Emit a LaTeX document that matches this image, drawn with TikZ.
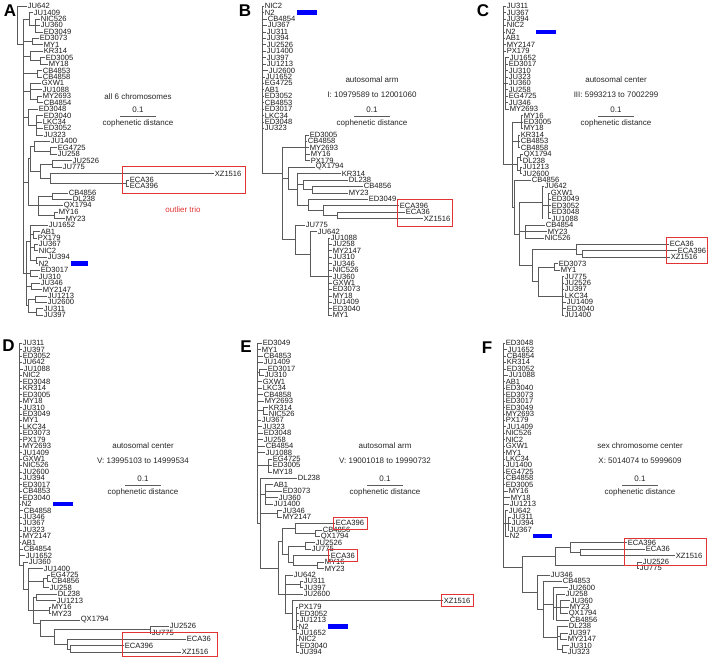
\documentclass[tikz,border=0pt]{standalone}
\usepackage{fontspec}
\setmainfont{Liberation Sans}
\usetikzlibrary{calc,fit}
\definecolor{boxred}{RGB}{226,52,52}
\definecolor{treegray}{RGB}{90,90,90}
\tikzset{
  leaf/.style={anchor=west,inner xsep=0.6pt,inner ysep=0pt,font=\fontsize{7.6}{7.6}\selectfont,text=black!90},
  branch/.style={draw=treegray,line width=0.5pt},
  note/.style={inner sep=0pt,font=\fontsize{8}{8}\selectfont,text=black!85},
  panel/.style={inner sep=0pt,font=\bfseries\fontsize{17}{17}\selectfont},
  trio/.style={draw=boxred,line width=0.8pt},
  nbar/.style={fill=blue}
}
\begin{document}
\begin{tikzpicture}[x=1pt,y=-1pt]
\useasboundingbox (0,0) rectangle (708,662);
\def\dy{6.44}

\begin{scope} %row-1 col-1
\def\yo{6}
\node[panel] (pA) at (10,11) {A};
\foreach \lab/\tx/\px [count=\n from 0] in {JU642/27/17, JU1409/33/29, NIC526/40/35, JU360/40/35, ED3049/43/35, ED3073/39/32, MY1/43/32, KR314/43/30, ED3005/45/40, MY18/48/40, CB4853/42/37, CB4858/42/37, GXW1/41/30, JU1088/42/30, MY2693/42/37, CB4854/43/37, ED3048/38/28, ED3040/43/36, LKC34/42/36, ED3052/43/36, JU323/43/36, JU1400/50/34, EG4725/57/50, JU258/57/50, JU2526/72/52, JU775/62/52, XZ1516/214/50, ECA36/129/126, ECA396/129/126, CB4856/68/52, DL238/72/52, QX1794/63/38, MY16/58/54, MY23/65/54, JU1652/48/30, AB1/40/33, PX179/37/33, JU367/38/34, NIC2/38/34, JU394/47/36, N2/38/36, ED3017/40/30, JU310/38/30, JU346/40/31, MY2147/42/31, JU1213/47/35, JU2600/47/35, JU311/43/36, JU397/43/36}
{
 \node[leaf] (A\n) at (\tx,{\yo+\dy*\n}) {\lab};
 \draw[branch] (A\n.west) -- (\px,{\yo+\dy*\n});
}
\foreach \bx/\bi/\bj in {17/0/6, 23/2/41.5, 29/1/3, 35/2/4, 32/5/6, 30/7/8.5, 40/8/9, 37/10/11, 30/12/14.5, 37/14/15, 28/16/18.5, 36/17/20, 34/21/22.5, 50/22/23, 52/24/25, 50/26/27.5, 126/27/28, 40/24.5/26.75, 30/21.75/25.6, 52/29/30, 54/32/33, 38/29.5/32.5, 28/23.7/31, 33/35/36, 34/37/38, 36/39/40, 30/34/39.5, 30/41/42, 31/43/44, 35/45/46, 36/47/48, 28/45.5/47.5, 26/36.5/46.5}
 \draw[branch] (\bx,{\yo+\dy*\bi}) -- (\bx,{\yo+\dy*\bj});
\foreach \ba/\bb/\bk in {17/23/6, 23/29/2, 29/35/3, 23/32/5.5, 23/30/7.75, 30/40/8.5, 23/37/10.5, 23/30/13.25, 30/37/14.5, 23/28/17.25, 28/36/18.5, 30/34/21.75, 34/50/22.5, 40/52/24.5, 40/50/26.75, 50/126/27.5, 30/40/25.6, 28/30/23.7, 38/52/29.5, 38/54/32.5, 28/38/31, 23/28/27.3, 30/33/35.5, 30/34/37.5, 30/36/39.5, 26/30/36.5, 26/30/41.5, 26/31/43.5, 28/35/45.5, 28/36/47.5, 26/28/46.5, 23/26/41.5}
 \draw[branch] (\ba,{\yo+\dy*\bk}) -- (\bb,{\yo+\dy*\bk});
\fill[nbar] ($(A40.west)+(33,-2.2)$) rectangle ++(17,4.4);
\draw[trio] (122,166) rectangle (245,193);
\node[note,text=boxred] (oA) at (183,210) {outlier trio};
\node[note] (tA) at (138,97) {all 6 chromosomes};
\node[note] (sA) at (138,110) {0.1};
\draw[branch] ($(sA)+(-18,6)$) -- ++(36,0);
\node[note] (cA) at (138,123) {cophenetic distance};
\end{scope}

\begin{scope} %row-1 col-2
\def\yo{6}
\node[panel] (pB) at (245,11) {B};
\foreach \lab/\tx/\px [count=\n from 0] in {NIC2/264/262, N2/264/262, CB4854/267/262, JU367/267/262, JU311/266/262, JU394/266/262, JU2526/266/262, JU1400/266/262, JU397/266/262, JU1213/266/262, JU2600/268/262, JU1652/265/262, EG4725/264/262, AB1/264/262, ED3052/264/262, CB4853/264/262, ED3017/264/262, LKC34/264/262, ED3048/264/262, JU323/264/262, ED3005/309/305, CB4858/307/305, MY2693/309/305, MY16/310/305, PX179/310/305, QX1794/315/288, KR314/341/297, DL238/348/303, CB4856/363/312, MY23/348/312, ED3049/368/308, ECA396/399/323, ECA36/405/337, XZ1516/423/337, JU775/305/295, JU642/317/310, JU1088/330/328, JU258/332/328, MY2147/332/328, JU310/332/328, JU346/332/328, NIC526/332/328, JU360/332/328, GXW1/332/328, ED3073/332/328, MY18/332/328, JU1409/332/328, ED3040/332/328, MY1/332/328}
{
 \node[leaf] (B\n) at (\tx,{\yo+\dy*\n}) {\lab};
 \draw[branch] (B\n.west) -- (\px,{\yo+\dy*\n});
}
\foreach \bx/\bi/\bj in {262/0/26, 305/20/24, 282/22/36.25, 288/25/28.45, 297/26/30.9, 303/27/28.5, 312/28/29, 308/30/31.75, 323/31/32.5, 337/32/33, 295/34/38.5, 310/35/42, 328/36/48}
 \draw[branch] (\bx,{\yo+\dy*\bi}) -- (\bx,{\yo+\dy*\bj});
\foreach \ba/\bb/\bk in {262/282/26, 282/305/22, 282/288/26.7, 288/297/28.45, 297/303/27.75, 303/312/28.5, 297/308/30.9, 308/323/31.75, 323/337/32.5, 282/295/36.25, 295/310/38.5, 310/328/42}
 \draw[branch] (\ba,{\yo+\dy*\bk}) -- (\bb,{\yo+\dy*\bk});
\fill[nbar] ($(B1.west)+(33,-2.2)$) rectangle ++(20,4.4);
\draw[trio] (397,199) rectangle (452,226);
\node[note] (tB) at (372,80) {autosomal arm};
\node[note] (rB) at (372,95) {I: 10979589 to 12001060};
\node[note] (sB) at (372,110) {0.1};
\draw[branch] ($(sB)+(-18,6)$) -- ++(36,0);
\node[note] (cB) at (372,123) {cophenetic distance};
\end{scope}

\begin{scope} %row-1 col-3
\def\yo{6}
\node[panel] (pC) at (483,11) {C};
\foreach \lab/\tx/\px [count=\n from 0] in {JU311/506/503, JU367/506/503, JU394/506/503, NIC2/506/503, N2/505/503, AB1/505/503, MY2147/506/503, PX179/506/503, JU1652/509/505, ED3017/508/505, JU310/508/505, JU323/508/505, JU360/508/505, JU258/508/505, EG4725/508/505, JU346/508/505, MY2693/509/505, MY16/523/521, ED3005/523/521, MY18/523/521, KR314/520/518, CB4853/520/518, CB4858/520/518, QX1794/523/520, DL238/522/520, JU1213/522/520, JU2600/522/520, CB4856/531/514, JU642/544/542, GXW1/550/548, ED3049/551/548, ED3052/551/548, ED3048/551/548, JU1088/551/548, CB4854/545/525, MY23/547/525, NIC526/544/525, ECA36/669/576, ECA396/677/582, XZ1516/670/582, ED3073/558/554, MY1/560/554, JU775/564/562, JU2526/564/562, JU397/564/562, LKC34/564/562, JU1409/566/562, ED3040/566/562, JU1400/564/562}
{
 \node[leaf] (C\n) at (\tx,{\yo+\dy*\n}) {\lab};
 \draw[branch] (C\n.west) -- (\px,{\yo+\dy*\n});
}
\foreach \bx/\bi/\bj in {503/0/24.6, 505/8/16, 521/17/19, 518/20/22, 520/23/24, 520/25/26, 517/23.5/25.5, 512/18/31.2, 514/27/35.4, 542/28/33, 548/29/33, 525/34/36, 519/30.5/40.25, 576/37/38.5, 582/38/39, 532/37.75/42.75, 554/40/41, 562/42/48, 538/40.5/45}
 \draw[branch] (\bx,{\yo+\dy*\bi}) -- (\bx,{\yo+\dy*\bj});
\foreach \ba/\bb/\bk in {503/505/12, 503/512/24.6, 512/521/18, 512/518/21, 512/517/24.5, 517/520/23.5, 517/520/25.5, 512/514/31.2, 514/519/35.4, 519/542/30.5, 542/548/31, 519/525/35, 519/532/40.25, 532/576/37.75, 576/582/38.5, 532/538/42.75, 538/554/40.5, 538/562/45}
 \draw[branch] (\ba,{\yo+\dy*\bk}) -- (\bb,{\yo+\dy*\bk});
\fill[nbar] ($(C4.west)+(31,-2.2)$) rectangle ++(20,4.4);
\draw[trio] (666,237) rectangle (707,263);
\node[note] (tC) at (616,80) {autosomal center};
\node[note] (rC) at (616,95) {III: 5993213 to 7002299};
\node[note] (sC) at (616,110) {0.1};
\draw[branch] ($(sC)+(-18,6)$) -- ++(36,0);
\node[note] (cC) at (616,123) {cophenetic distance};
\end{scope}

\begin{scope} %row-2 col-1
\def\yo{343}
\node[panel] (pD) at (8.5,346) {D};
\foreach \lab/\tx/\px [count=\n from 0] in {JU311/22/19, JU397/22/19, ED3052/22/19, JU642/22/19, JU1088/23/19, NIC2/22/19, ED3048/22/19, KR314/22/19, ED3005/22/19, MY18/22/19, JU310/22/19, ED3049/22/19, MY1/22/19, LKC34/22/19, ED3073/22/19, PX179/22/19, MY2693/22/19, JU1409/22/19, GXW1/22/19, NIC526/22/19, JU2600/22/19, JU394/22/19, ED3017/22/19, CB4853/22/19, ED3040/22/19, N2/21/19, CB4858/23/19, JU346/22/19, JU367/22/19, JU323/22/19, MY2147/22/19, AB1/21/19, CB4854/23/19, JU1652/25/19, JU360/28/23, JU1400/43/28, EG4725/50/47, CB4856/51/47, JU258/49/43, DL238/57/36, JU1213/56/36, MY16/51/49, MY23/51/49, QX1794/80/40, JU2526/169/150, JU775/151/150, ECA36/186/67, ECA396/124/70, XZ1516/181/70}
{
 \node[leaf] (D\n) at (\tx,{\yo+\dy*\n}) {\lab};
 \draw[branch] (D\n.west) -- (\px,{\yo+\dy*\n});
}
\foreach \bx/\bi/\bj in {19/0/34.5, 23/34/38.25, 28/35/41.5, 43/36.5/38, 47/36/37, 36/39/40, 49/41/42, 33/39.5/43.5, 40/43/45.6, 150/44/45, 54/44.5/46.75, 67/46/47.5, 70/47/48}
 \draw[branch] (\bx,{\yo+\dy*\bi}) -- (\bx,{\yo+\dy*\bj});
\foreach \ba/\bb/\bk in {19/23/34.5, 23/28/38.25, 28/43/37, 43/47/36.5, 28/33/41.5, 33/36/39.5, 33/49/41.5, 33/40/43.5, 40/54/45.6, 54/150/44.5, 54/67/46.75, 67/70/47.5}
 \draw[branch] (\ba,{\yo+\dy*\bk}) -- (\bb,{\yo+\dy*\bk});
\fill[nbar] ($(D25.west)+(32,-2.2)$) rectangle ++(20,4.4);
\draw[trio] (122,632) rectangle (217,656);
\node[note] (tD) at (143,446) {autosomal center};
\node[note] (rD) at (143,461) {V: 13995103 to 14999534};
\node[note] (sD) at (143,479) {0.1};
\draw[branch] ($(sD)+(-18,6)$) -- ++(36,0);
\node[note] (cD) at (143,492) {cophenetic distance};
\end{scope}

\begin{scope} %row-2 col-2
\def\yo{343}
\node[panel] (pE) at (246,347) {E};
\foreach \lab/\tx/\px [count=\n from 0] in {ED3049/262/257, MY1/261/257, CB4853/263/257, JU1409/263/257, ED3017/267/259, JU310/264/259, GXW1/262/257, LKC34/262/257, CB4858/263/257, MY2693/264/257, KR314/268/263, NIC526/268/263, JU367/261/257, JU323/262/257, ED3048/263/257, JU258/263/257, CB4854/265/257, JU1088/265/257, EG4725/272/268, ED3005/272/268, MY18/272/268, DL238/297/260, AB1/273/265, ED3073/282/265, JU360/278/265, JU1400/273/265, JU346/282/277, MY2147/282/277, ECA396/335/295, CB4856/322/315, QX1794/320/315, JU2526/315/305, JU775/311/305, ECA36/330/293, MY16/324/317, MY23/324/317, JU642/293/285, JU311/303/300, JU397/303/300, JU2600/303/285, XZ1516/443/292, PX179/298/296, ED3052/299/296, JU1213/299/296, N2/298/296, JU1652/299/296, NIC2/298/296, ED3040/299/296, JU394/299/296}
{
 \node[leaf] (E\n) at (\tx,{\yo+\dy*\n}) {\lab};
 \draw[branch] (E\n.west) -- (\px,{\yo+\dy*\n});
}
\foreach \bx/\bi/\bj in {257/0/28, 259/4/5, 263/10/11, 268/18/20, 260/21/34.9, 265/22/25, 277/26/27, 295/28/29.5, 315/29/30, 305/31/32, 293/33/34.5, 317/34/35, 288/31.5/34, 282/28.75/32.75, 300/37/38, 285/36/42, 292/40/44.5, 296/41/48, 278/30.75/39}
 \draw[branch] (\bx,{\yo+\dy*\bi}) -- (\bx,{\yo+\dy*\bj});
\foreach \ba/\bb/\bk in {257/259/4.5, 257/263/10.5, 257/268/19, 257/260/28, 260/265/23.5, 260/277/26.5, 260/278/34.9, 295/315/29.5, 282/295/28.75, 288/305/31.5, 288/293/34, 293/317/34.5, 282/288/32.75, 285/300/37.5, 285/292/42, 292/296/44.5, 278/282/30.75, 278/285/39}
 \draw[branch] (\ba,{\yo+\dy*\bk}) -- (\bb,{\yo+\dy*\bk});
\fill[nbar] ($(E44.west)+(30,-2.2)$) rectangle ++(20,4.4);
\foreach \m in {28,33,40}
 \node[trio,fit=(E\m),inner xsep=2pt,inner ysep=3pt] (boxE\m) {};
\node[note] (tE) at (385,446) {autosomal arm};
\node[note] (rE) at (385,461) {V: 19001018 to 19990732};
\node[note] (sE) at (385,479) {0.1};
\draw[branch] ($(sE)+(-18,6)$) -- ++(36,0);
\node[note] (cE) at (385,492) {cophenetic distance};
\end{scope}

\begin{scope} %row-2 col-3
\def\yo{343}
\node[panel] (pF) at (487,348) {F};
\foreach \lab/\tx/\px [count=\n from 0] in {ED3048/505/503, JU1652/507/503, CB4854/506/503, KR314/506/503, ED3052/506/503, JU1088/508/503, AB1/505/503, ED3040/505/503, ED3073/505/503, ED3017/505/503, ED3049/505/503, MY2693/505/503, PX179/505/503, JU1409/506/503, NIC526/505/503, NIC2/505/503, GXW1/505/503, MY1/505/503, LKC34/505/503, JU1400/505/503, EG4725/505/503, CB4858/505/503, ED3005/505/503, MY16/508/503, MY18/510/503, JU1213/509/503, JU642/508/505, JU311/511/508, JU394/511/508, JU367/509/508, N2/509/505, ECA396/627/570, ECA36/645/580, XZ1516/675/580, JU2526/642/637, JU775/639/637, JU346/550/537, CB4853/562/543, JU2600/568/553, JU258/565/556, JU360/570/560, MY23/569/560, QX1794/568/560, CB4856/569/556, DL238/568/557, JU397/568/560, MY2147/567/560, JU310/569/562, JU323/567/562}
{
 \node[leaf] (F\n) at (\tx,{\yo+\dy*\n}) {\lab};
 \draw[branch] (F\n.west) -- (\px,{\yo+\dy*\n});
}
\foreach \bx/\bi/\bj in {503/0/34.8, 505/26/30, 508/27/29, 522/33.1/38.7, 555/31.75/34.5, 570/31/32.5, 580/32/33, 637/34/35, 537/36/41.4, 543/37/45.75, 553/38/43, 556/39/43, 560/40/42, 557/44/47.5, 560/45/46, 562/47/48}
 \draw[branch] (\bx,{\yo+\dy*\bi}) -- (\bx,{\yo+\dy*\bj});
\foreach \ba/\bb/\bk in {503/505/28, 505/508/28, 503/522/34.8, 522/555/33.1, 555/570/31.75, 570/580/32.5, 555/637/34.5, 522/537/38.7, 537/543/41.4, 543/553/40.5, 553/556/41, 556/560/41, 543/557/45.75, 557/560/45.5, 557/562/47.5}
 \draw[branch] (\ba,{\yo+\dy*\bk}) -- (\bb,{\yo+\dy*\bk});
\fill[nbar] ($(F30.west)+(24,-2.2)$) rectangle ++(19,4.4);
\draw[trio] (624,538) rectangle (706,565);
\node[note] (tF) at (640,446) {sex chromosome center};
\node[note] (rF) at (640,461) {X: 5014074 to 5999609};
\node[note] (sF) at (640,479) {0.1};
\draw[branch] ($(sF)+(-18,6)$) -- ++(36,0);
\node[note] (cF) at (640,492) {cophenetic distance};
\end{scope}

\end{tikzpicture}
\end{document}
